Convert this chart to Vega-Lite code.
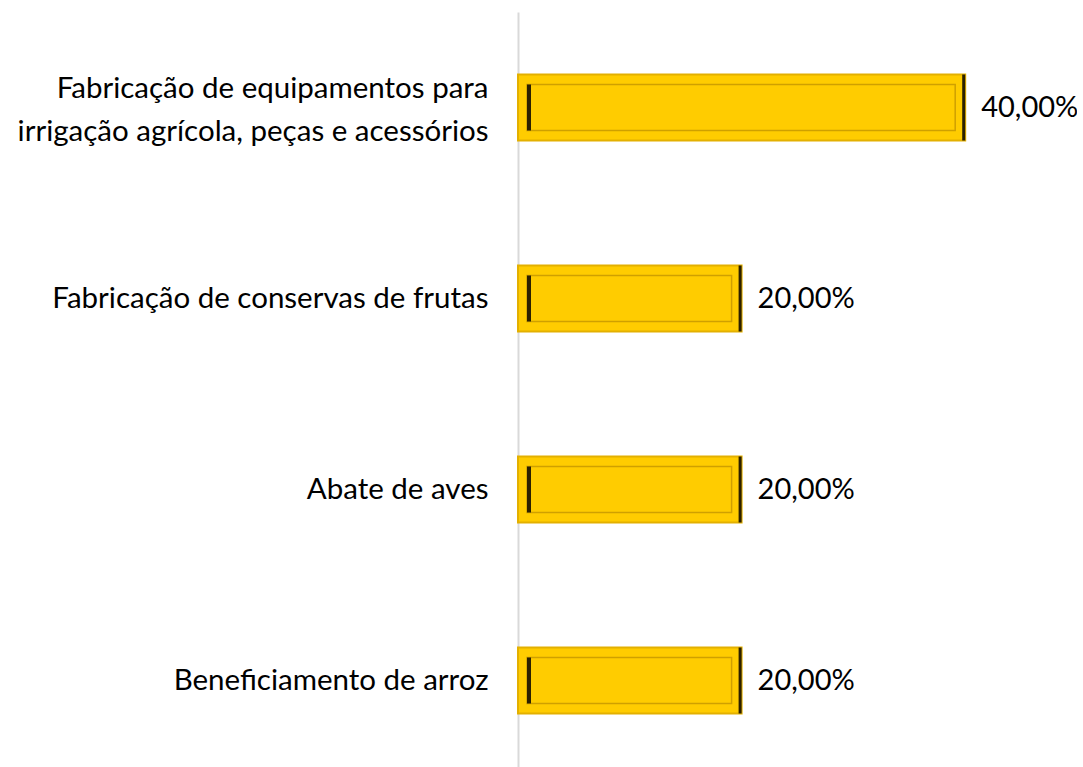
{
  "$schema": "https://vega.github.io/schema/vega-lite/v6.json",
  "autosize": {"type": "none"},
  "padding": {"left": 518, "top": 12, "right": 0, "bottom": 0},
  "width": 559,
  "height": 764,
  "background": "white",
  "config": {
    "view": {"stroke": null},
    "locale": {"number": {"decimal": ",", "thousands": ".", "grouping": [3], "currency": ["R$", ""]}}
  },
  "data": {
    "values": [
      {"atividade": "Fabricação de equipamentos para|irrigação agrícola, peças e acessórios", "valor": 0.4},
      {"atividade": "Fabricação de conservas de frutas", "valor": 0.2},
      {"atividade": "Abate de aves", "valor": 0.2},
      {"atividade": "Beneficiamento de arroz", "valor": 0.2}
    ]
  },
  "encoding": {
    "y": {
      "field": "atividade",
      "type": "nominal",
      "sort": null,
      "title": null,
      "axis": {
        "labelExpr": "split(datum.label, '|')",
        "labelFont": "Lato",
        "labelFontSize": 29.5,
        "labelColor": "#000000",
        "labelPadding": 30,
        "labelLineHeight": 43,
        "labelLimit": 600,
        "ticks": false,
        "domainColor": "#D9D9D9",
        "domainWidth": 2,
        "labelOffset": {"condition": {"test": "indexof(datum.value, '|') >= 0", "value": -19}, "value": 0}
      }
    }
  },
  "layer": [
    {
      "mark": {"type": "bar", "size": 66, "fill": "#FFCC00", "stroke": "#E3B000", "strokeWidth": 2},
      "encoding": {
        "x": {"field": "valor", "type": "quantitative", "scale": {"domain": [0, 0.5]}, "axis": null}
      }
    },
    {
      "mark": {"type": "bar", "size": 46, "fill": "#FFCC00", "stroke": "#CFA000", "strokeWidth": 1.5, "xOffset": -10, "x2Offset": 9},
      "encoding": {
        "x": {"field": "valor", "type": "quantitative"},
        "x2": {"datum": 0}
      }
    },
    {
      "mark": {"type": "tick", "size": 46, "thickness": 4, "color": "#2B2000", "xOffset": 11, "opacity": 1},
      "encoding": {
        "x": {"datum": 0, "type": "quantitative"}
      }
    },
    {
      "mark": {"type": "tick", "size": 66, "thickness": 3, "color": "#2B2000", "xOffset": -1.5, "opacity": 1},
      "encoding": {
        "x": {"field": "valor", "type": "quantitative"}
      }
    },
    {
      "mark": {"type": "text", "align": "left", "baseline": "middle", "dx": 16, "font": "Lato", "fontSize": 29, "color": "#000000"},
      "encoding": {
        "x": {"field": "valor", "type": "quantitative"},
        "text": {"field": "valor", "type": "quantitative", "format": ".2%"}
      }
    }
  ]
}
